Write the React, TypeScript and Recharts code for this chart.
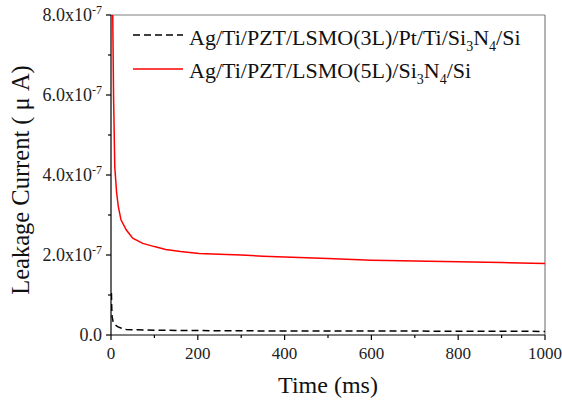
import React from 'react';
import { LineChart, Line, XAxis, YAxis, ReferenceLine } from 'recharts';

// Leakage current vs time, values in units of 1e-7 μA
const timeRed = [2, 4, 6, 8.7, 13, 17, 23, 35, 50, 73, 100, 126, 160, 203, 250, 300, 350, 400, 500, 600, 700, 800, 900, 1000];
const currentRed = [9.6, 8.0, 5.9, 4.2, 3.55, 3.2, 2.88, 2.63, 2.42, 2.29, 2.21, 2.14, 2.09, 2.04, 2.02, 2.0, 1.97, 1.95, 1.91, 1.87, 1.85, 1.83, 1.81, 1.79];

const timeBlack = [1, 1.5, 2.5, 5, 9, 15, 24, 35, 60, 100, 200, 400, 600, 800, 1000];
const currentBlack = [1.05, 0.75, 0.46, 0.33, 0.26, 0.21, 0.17, 0.14, 0.13, 0.12, 0.11, 0.1, 0.1, 0.095, 0.09];

const xTicks = [0, 100, 200, 300, 400, 500, 600, 700, 800, 900, 1000];
const yTicks = [0, 1, 2, 3, 4, 5, 6, 7, 8];

const FONT = '"Liberation Serif", "Times New Roman", serif';

const redData = timeRed.map((t, i) => ({ t, v: currentRed[i] }));
const blackData = timeBlack.map((t, i) => ({ t, v: currentBlack[i] }));

const XTick = (props: any) => {
  const { x, y, payload } = props;
  const v = payload.value as number;
  const major = v % 200 === 0;
  return (
    <g>
      <line x1={x} x2={x} y1={y} y2={y + (major ? 5 : 3)} stroke="#000" strokeWidth={1.2} />
      {major && (
        <text x={x} y={y + 24} textAnchor="middle" fontSize={17} fontFamily={FONT} fill="#222">
          {v}
        </text>
      )}
    </g>
  );
};

const YTick = (props: any) => {
  const { x, y, payload } = props;
  const v = payload.value as number;
  const major = v % 2 === 0;
  return (
    <g>
      <line x1={x - (major ? 5 : 3)} x2={x} y1={y} y2={y} stroke="#000" strokeWidth={1.2} />
      {major && (
        <text x={x - 9} y={y + 6} textAnchor="end" fontSize={18} fontFamily={FONT} fill="#222">
          {v === 0 ? (
            '0.0'
          ) : (
            <>
              <tspan>{v.toFixed(1)}x10</tspan>
              <tspan fontSize={12} dy={-7}>-7</tspan>
            </>
          )}
        </text>
      )}
    </g>
  );
};

const LegendOverlay = () => (
  <svg width={562} height={403} style={{ position: 'absolute', left: 0, top: 0, pointerEvents: 'none' }}>
    <line x1={133} x2={183} y1={35} y2={35} stroke="#000" strokeWidth={1.5} strokeDasharray="7 4" />
    <text x={189} y={45} fontSize={22} fontFamily={FONT} fill="#111">
      <tspan>Ag/Ti/PZT/LSMO(3L)/Pt/Ti/Si</tspan>
      <tspan fontSize={14} dy={6}>3</tspan>
      <tspan dy={-6}>N</tspan>
      <tspan fontSize={14} dy={6}>4</tspan>
      <tspan dy={-6}>/Si</tspan>
    </text>
    <line x1={133} x2={183} y1={69} y2={69} stroke="#ff0000" strokeWidth={1.5} />
    <text x={189} y={78} fontSize={22} fontFamily={FONT} fill="#111">
      <tspan>Ag/Ti/PZT/LSMO(5L)/Si</tspan>
      <tspan fontSize={14} dy={6}>3</tspan>
      <tspan dy={-6}>N</tspan>
      <tspan fontSize={14} dy={6}>4</tspan>
      <tspan dy={-6}>/Si</tspan>
    </text>
    <text
      x={29}
      y={180}
      transform="rotate(-90 29 180)"
      textAnchor="middle"
      fontSize={24.5}
      fontFamily={FONT}
      fill="#111"
    >
      Leakage Current ( μ A)
    </text>
    <text x={328} y={393} textAnchor="middle" fontSize={24} fontFamily={FONT} fill="#111">
      Time (ms)
    </text>
  </svg>
);

export default function App() {
  return (
    <div style={{ position: 'absolute', left: 0, top: 0, width: 562, height: 403, background: '#fff' }}>
      <LineChart width={562} height={403} margin={{ top: 15, right: 17, left: 0, bottom: 28 }}>
        <XAxis
          type="number"
          dataKey="t"
          domain={[0, 1000]}
          ticks={xTicks}
          interval={0}
          tickSize={0}
          tickMargin={0}
          tick={<XTick />}
          axisLine={{ stroke: '#000', strokeWidth: 1.2 }}
          height={40}
          allowDataOverflow
        />
        <YAxis
          type="number"
          dataKey="v"
          domain={[0, 8]}
          ticks={yTicks}
          interval={0}
          tickSize={0}
          tickMargin={0}
          tick={<YTick />}
          axisLine={{ stroke: '#000', strokeWidth: 1.2 }}
          width={111}
          allowDataOverflow
        />
        <ReferenceLine y={8} stroke="#808080" strokeWidth={1.2} />
        <ReferenceLine x={1000} stroke="#808080" strokeWidth={1.2} />
        <Line
          data={blackData}
          dataKey="v"
          type="linear"
          stroke="#000"
          strokeWidth={1.5}
          strokeDasharray="7 4"
          dot={false}
          isAnimationActive={false}
        />
        <Line
          data={redData}
          dataKey="v"
          type="linear"
          stroke="#ff0000"
          strokeWidth={1.5}
          dot={false}
          isAnimationActive={false}
        />
      </LineChart>
      <LegendOverlay />
    </div>
  );
}
